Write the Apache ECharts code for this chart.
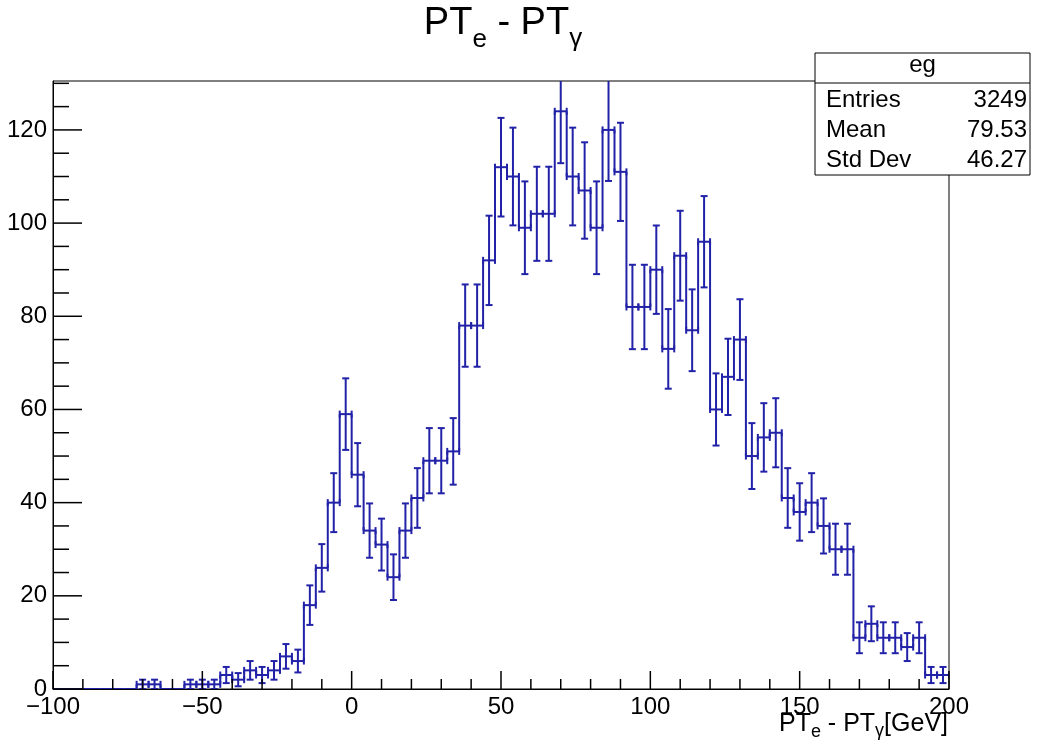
<!DOCTYPE html>
<html>
<head>
<meta charset="utf-8">
<title>PTe - PTgamma</title>
<script src="https://cdn.jsdelivr.net/npm/echarts@6/dist/echarts.min.js"></script>
<style>
  html, body { margin: 0; padding: 0; background: #fff; }
  #chart { width: 1039px; height: 744px; }
</style>
</head>
<body>
<div id="chart"></div>
<script>
// histogram binning: 75 bins of width 4 from -100 to 200
const binLow = -100;
const binWidth = 4;
// bin contents (left to right)
const counts = [
  0, 0, 0, 0, 0, 0, 0, 1, 1, 0,
  0, 1, 1, 1, 3, 2, 4, 3, 4, 7,
  6, 18, 26, 40, 59, 46, 34, 31, 24, 34,
  41, 49, 49, 51, 78, 78, 92, 112, 110, 99,
  102, 102, 124, 110, 107, 99, 120, 111, 82, 82,
  90, 73, 93, 77, 96, 60, 67, 75, 50, 54,
  55, 41, 38, 40, 35, 30, 30, 11, 14, 11,
  11, 9, 11, 3, 3
];
const xTicks = [-100, -50, 0, 50, 100, 150, 200];
const yTicks = [0, 20, 40, 60, 80, 100, 120];
const yMax = 130.5;
const xMinorStep = 10;
const yMinorStep = 5;
const statNames = ['Entries', 'Mean', 'Std Dev'];
const statValues = ['3249', '79.53', '46.27'];
const statTitle = 'eg';

const FONT = '"Liberation Sans", Arial, Helvetica, sans-serif';
const LINE_COLOR = '#2222a8';

// rows for the histogram series: [low edge, high edge, content, previous content]
const binRows = counts.map((n, i) => [
  binLow + i * binWidth,
  binLow + (i + 1) * binWidth,
  n,
  i > 0 ? counts[i - 1] : 0
]);

// ROOT style ticks inside the frame: [x, y, direction, length]
const xFirst = xTicks[0], xLast = xTicks[xTicks.length - 1];
const tickRows = [];
for (let v = xFirst; v <= xLast; v += xMinorStep) {
  tickRows.push([v, 0, 0, xTicks.indexOf(v) >= 0 ? 18 : 10]);
}
for (let v = 0; v <= yMax; v += yMinorStep) {
  tickRows.push([xFirst, v, 1, yTicks.indexOf(v) >= 0 ? 29 : 16]);
}

// text with sub-scripts, laid out with canvas metrics
const measureCtx = document.createElement('canvas').getContext('2d');
function textRuns(parts, x, baseline, align) {
  const widths = parts.map(p => {
    measureCtx.font = p[1] + 'px ' + FONT;
    return measureCtx.measureText(p[0]).width;
  });
  const total = widths.reduce((a, b) => a + b, 0);
  let cx = align === 'center' ? x - total / 2 : align === 'right' ? x - total : x;
  return parts.map((p, i) => {
    const el = {
      type: 'text',
      x: cx,
      y: baseline + p[2] - 0.35 * p[1],
      style: { text: p[0], fontSize: p[1], fontFamily: FONT, fill: '#000', textAlign: 'left', textVerticalAlign: 'middle' }
    };
    cx += widths[i];
    return el;
  });
}

function plainText(text, x, baseline, size, align) {
  return {
    type: 'text', x: x, y: baseline - 0.35 * size, z: 101,
    style: { text: text, fontSize: size, fontFamily: FONT, fill: '#000', textAlign: align, textVerticalAlign: 'middle' }
  };
}

// stats box
const box = { x: 815, y: 53, w: 215, h: 122, head: 30 };
const statsGraphics = [
  {
    type: 'rect', z: 100,
    shape: { x: box.x, y: box.y, width: box.w, height: box.h },
    style: { fill: '#fff', stroke: '#000', lineWidth: 1 }
  },
  {
    type: 'line', z: 101,
    shape: { x1: box.x, y1: box.y + box.head, x2: box.x + box.w, y2: box.y + box.head },
    style: { stroke: '#000', lineWidth: 1 }
  },
  plainText(statTitle, box.x + box.w / 2, 74, 24, 'center')
];
statNames.forEach((name, i) => {
  const base = 109 + i * 30;
  statsGraphics.push(plainText(name, 826, base, 24, 'left'));
  statsGraphics.push(plainText(statValues[i], 1027, base, 24, 'right'));
});

const titleGraphics = textRuns([
  ['PT', 38, 0], ['e', 26, 12], [' - PT', 38, 0], ['\u03b3', 26, 11]
], 503, 37, 'center');

const xTitleGraphics = textRuns([
  ['PT', 25, 0], ['e', 18, 5], [' - PT', 25, 0], ['\u03b3', 18, 4], ['[GeV]', 25, 0]
], 948, 733, 'right');

function seg(a, b, color, width) {
  return {
    type: 'line',
    shape: { x1: a[0], y1: a[1], x2: b[0], y2: b[1] },
    style: { stroke: color || LINE_COLOR, lineWidth: width || 2 }
  };
}

const chart = echarts.init(document.getElementById('chart'));

chart.setOption({
  animation: false,
  backgroundColor: '#fff',
  textStyle: { fontFamily: FONT },
  grid: {
    left: 53, right: 90, top: 81, bottom: 55,
    show: true, borderColor: '#000', borderWidth: 1, backgroundColor: 'transparent'
  },
  xAxis: {
    type: 'value',
    min: xFirst,
    max: xLast,
    interval: xTicks[1] - xTicks[0],
    axisLine: { show: true, lineStyle: { color: '#000', width: 1 } },
    axisTick: { show: false },
    minorTick: { show: false },
    splitLine: { show: false },
    axisLabel: {
      color: '#000', fontSize: 24, fontFamily: FONT, margin: 6,
      formatter: v => String(v).replace('-', '\u2212')
    }
  },
  yAxis: {
    type: 'value',
    min: 0,
    max: yMax,
    interval: yTicks[1] - yTicks[0],
    axisLine: { show: true, onZero: false, lineStyle: { color: '#000', width: 1 } },
    axisTick: { show: false },
    minorTick: { show: false },
    splitLine: { show: false },
    axisLabel: {
      color: '#000', fontSize: 24, fontFamily: FONT, margin: 6,
      showMaxLabel: false,
      formatter: v => (yTicks.indexOf(v) >= 0 ? String(v) : '')
    }
  },
  series: [
    {
      type: 'custom',
      clip: true,
      z: 2,
      data: binRows,
      encode: { x: [0, 1], y: 2 },
      renderItem: function (params, api) {
        const lo = api.value(0), hi = api.value(1), n = api.value(2), prev = api.value(3);
        const pL = api.coord([lo, n]);
        const pR = api.coord([hi, n]);
        const children = [seg(pL, pR)];
        if (prev !== n) children.push(seg(api.coord([lo, prev]), pL));
        if (n > 0) {
          const err = Math.sqrt(n);
          const c = (lo + hi) / 2;
          const top = api.coord([c, n + err]);
          const bot = api.coord([c, n - err]);
          const cap = 3.5;
          children.push(seg(top, bot));
          children.push(seg([top[0] - cap, top[1]], [top[0] + cap, top[1]]));
          children.push(seg([bot[0] - cap, bot[1]], [bot[0] + cap, bot[1]]));
          children.push(seg([pL[0], pL[1] - cap], [pL[0], pL[1] + cap]));
          children.push(seg([pR[0], pR[1] - cap], [pR[0], pR[1] + cap]));
        }
        return { type: 'group', children: children };
      }
    },
    {
      // axis ticks, placed through the axis scales
      type: 'custom',
      clip: false,
      silent: true,
      z: 10,
      data: tickRows,
      encode: { x: 0, y: 1 },
      renderItem: function (params, api) {
        const p = api.coord([api.value(0), api.value(1)]);
        const len = api.value(3);
        const end = api.value(2) === 0 ? [p[0], p[1] - len] : [p[0] + len, p[1]];
        return seg(p, end, '#000', 1.5);
      }
    }
  ],
  graphic: [].concat(titleGraphics, xTitleGraphics, statsGraphics)
});
</script>
</body>
</html>
